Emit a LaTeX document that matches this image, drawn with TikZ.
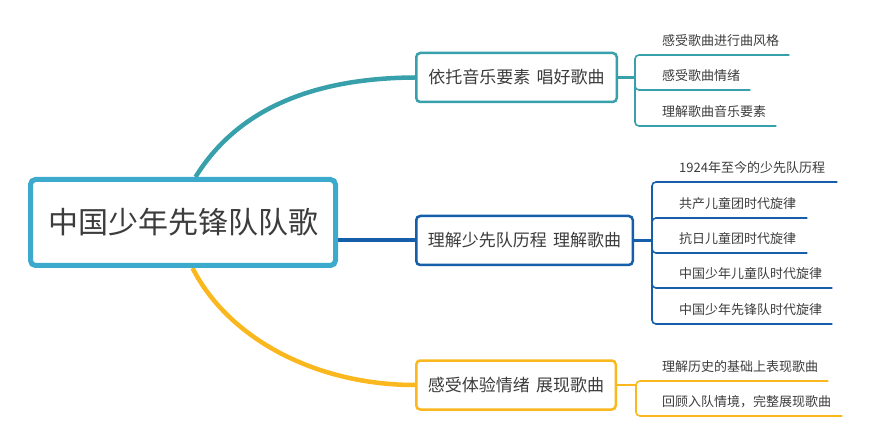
\documentclass[tikz,border=0pt]{standalone}
\usepackage{fontspec}
\setmainfont{Noto Sans CJK SC}
\usetikzlibrary{backgrounds}
\definecolor{rootc}{HTML}{3CAACD}
\definecolor{tealc}{HTML}{37A0AA}
\definecolor{bluec}{HTML}{155FAA}
\definecolor{yelc}{HTML}{FAB71E}
\definecolor{txt}{HTML}{3C3C3C}
\tikzset{
  rootbox/.style={draw=rootc, line width=5pt, rounded corners=5pt, fill=white,
    minimum width=305pt, minimum height=86pt, inner sep=0pt,
    font=\fontsize{30}{36}\selectfont, text=txt},
  branchbox/.style={line width=2.5pt, rounded corners=4pt, fill=white, inner sep=0pt,
    minimum height=49pt, font=\fontsize{17}{20}\selectfont, text=txt},
  leaf/.style={anchor=south west, inner xsep=0pt, inner ysep=7.5pt, text width=#1,
    align=left, font=\fontsize{13}{15}\selectfont, text=txt,
    text height=0.9em, text depth=0.15em},
  curve/.style={line width=4.5pt},
  twig/.style={line width=1.6pt, rounded corners=4pt},
  stem/.style={line width=2.6pt},
}
\begin{document}
\begin{tikzpicture}[x=1pt,y=-1pt]
\useasboundingbox (0,0) rectangle (870,446);

\node[rootbox] (root) at (183,222.5) {中国少年先锋队队歌};
\node[branchbox, draw=tealc, minimum width=200.5pt] (top) at (516.5,77.5) {依托音乐要素\hspace{0.15em} 唱好歌曲};
\node[branchbox, draw=bluec, minimum width=216.5pt] (mid) at (524.5,240.5) {理解少先队历程\hspace{0.15em} 理解歌曲};
\node[branchbox, draw=yelc, minimum width=199.5pt] (bot) at (516,385) {感受体验情绪\hspace{0.15em} 展现歌曲};

\begin{pgfonlayer}{background}
\draw[curve, tealc] ([xshift=167.5pt]root.north west) .. controls (240,105) and (320,78) .. (top.west);
\draw[curve, yelc] ([xshift=164.5pt]root.south west) .. controls (228,338) and (315,385) .. (bot.west);
\draw[line width=4pt, bluec] (root.east |- mid.west) -- (mid.west);
\end{pgfonlayer}

% top leaves
\node[leaf=154pt] (t1) at (635,55) {\hspace*{27pt}感受歌曲进行曲风格};
\node[leaf=115pt] (t2) at (635,90) {\hspace*{27pt}感受歌曲情绪};
\node[leaf=141pt] (t3) at (635,126) {\hspace*{27pt}理解歌曲音乐要素};
\draw[stem, tealc] (top.east) -- (top.east -| t1.south west);
\foreach \n in {t1,t2,t3} \draw[twig, tealc] (top.east -| t1.south west) |- (\n.south east);

% middle leaves
\node[leaf=185pt] (m1) at (652,182) {\hspace*{27pt}1924年至今的少先队历程};
\node[leaf=155pt] (m2) at (652,218) {\hspace*{27pt}共产儿童团时代旋律};
\node[leaf=155pt] (m3) at (652,253) {\hspace*{27pt}抗日儿童团时代旋律};
\node[leaf=180pt] (m4) at (652,288) {\hspace*{27pt}中国少年儿童队时代旋律};
\node[leaf=180pt] (m5) at (652,324) {\hspace*{27pt}中国少年先锋队时代旋律};
\draw[stem, bluec] (mid.east) -- (mid.east -| m1.south west);
\foreach \n in {m1,m2,m3,m4,m5} \draw[twig, bluec] (mid.east -| m1.south west) |- (\n.south east);

% bottom leaves
\node[leaf=192pt] (b1) at (636,381) {\hspace*{26pt}理解历史的基础上表现歌曲};
\node[leaf=206pt] (b2) at (636,416) {\hspace*{26pt}回顾入队情境，完整展现歌曲};
\draw[stem, yelc] (bot.east) -- (bot.east -| b1.south west);
\foreach \n in {b1,b2} \draw[twig, yelc] (bot.east -| b1.south west) |- (\n.south east);
\end{tikzpicture}
\end{document}
